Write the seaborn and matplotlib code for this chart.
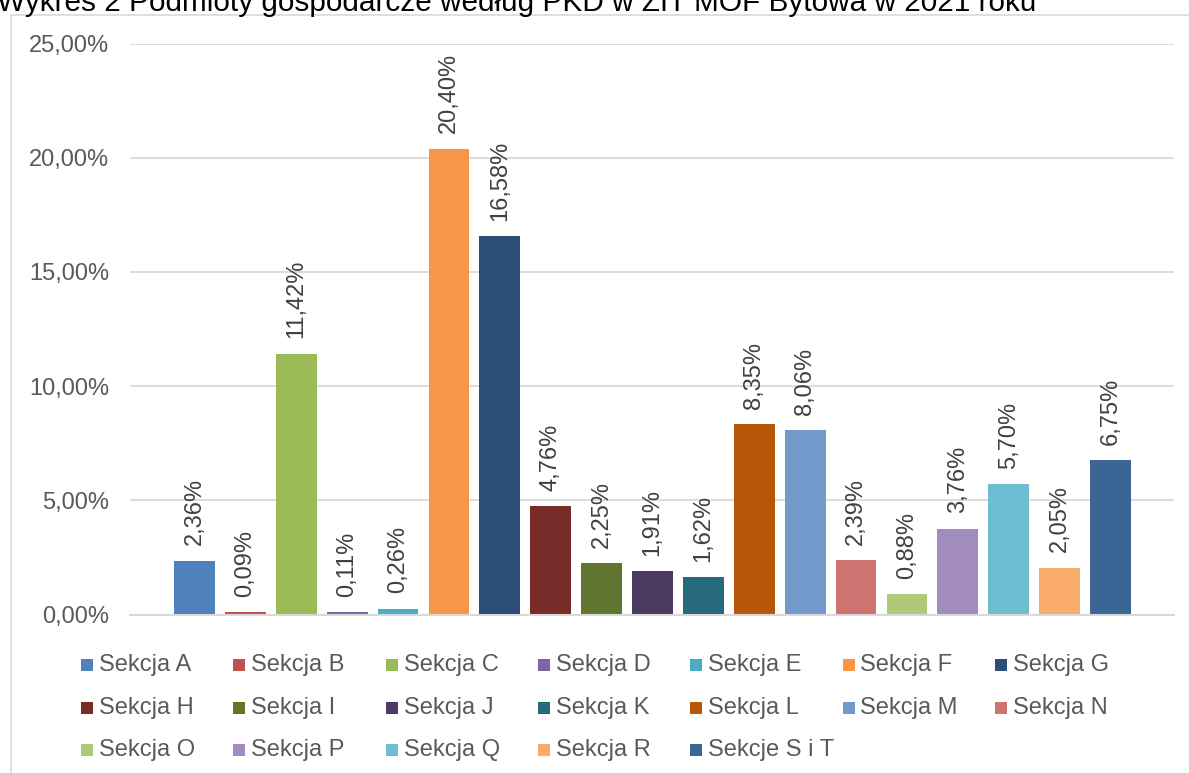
import matplotlib
matplotlib.use("Agg")
import matplotlib.pyplot as plt
import seaborn as sns
import pandas as pd
from matplotlib.patches import Rectangle

categories = ["Sekcja A", "Sekcja B", "Sekcja C", "Sekcja D", "Sekcja E", "Sekcja F",
              "Sekcja G", "Sekcja H", "Sekcja I", "Sekcja J", "Sekcja K", "Sekcja L",
              "Sekcja M", "Sekcja N", "Sekcja O", "Sekcja P", "Sekcja Q", "Sekcja R",
              "Sekcje S i T"]
values = [2.36, 0.09, 11.42, 0.11, 0.26, 20.40, 16.58, 4.76, 2.25, 1.91, 1.62, 8.35,
          8.06, 2.39, 0.88, 3.76, 5.70, 2.05, 6.75]
colors = ["#4F81BD", "#C0504D", "#9BBB59", "#8064A2", "#4BACC6", "#F79646", "#2C4D75",
          "#772C2A", "#5F7530", "#4D3B62", "#276A7C", "#B65708", "#729ACA", "#CD7371",
          "#AFC97A", "#A18BBF", "#6FBDD1", "#F9AB6B", "#3A6595"]
yticks = [0, 5, 10, 15, 20, 25]
title = "Wykres 2 Podmioty gospodarcze według PKD w ZIT MOF Bytowa w 2021 roku"

sns.set_theme(style="white")
plt.rcParams['font.family'] = ['Liberation Sans', 'DejaVu Sans']

W, H = 1189, 773
fig = plt.figure(figsize=(W / 100, H / 100), dpi=100)
fig.patch.set_facecolor("white")

# chart area border (extends beyond the crop on right/bottom)
fig.add_artist(Rectangle((11 / W, -0.05), 1.2, 1 - 14.5 / H + 0.05, transform=fig.transFigure,
                         fill=False, edgecolor="#D9D9D9", linewidth=1.2))

# title (cropped at top, as in the reference)
fig.text(-3 / W, 1 - 11 / H, title, ha="left", va="baseline", fontsize=21.4, color="#000000")

ax = fig.add_axes([130 / W, 1 - 614.5 / H, (1174 - 130) / W, (614.5 - 43.5) / H])
df = pd.DataFrame({"cat": categories, "val": values})
sns.barplot(data=df, x="cat", y="val", hue="cat", palette=colors, dodge=False,
            width=0.8, legend=False, ax=ax, saturation=1, edgecolor="none", linewidth=0)

ax.set_xlim(-1.267, 19.248)
ax.set_ylim(0, 25)
ax.set_yticks(yticks)
ax.set_yticklabels([f"{v:.2f}".replace(".", ",") + "%" for v in yticks],
                   fontsize=17, color="#595959")
ax.set_xticks([])
ax.set_xlabel("")
ax.set_ylabel("")
ax.tick_params(axis="y", length=0, pad=15)
ax.yaxis.grid(True, color="#D9D9D9", linewidth=1.3)
ax.set_axisbelow(True)
for s in ["top", "right", "left"]:
    ax.spines[s].set_visible(False)
ax.spines["bottom"].set_color("#D9D9D9")
ax.spines["bottom"].set_linewidth(1.5)

for cont in ax.containers:
    ax.bar_label(cont, labels=[f"{v:.2f}".replace(".", ",") + "%" for v in cont.datavalues],
                 rotation=90, padding=11, fontsize=17, color="#404040")

# legend (Excel style grid, 7 columns)
col0, colstep = 81, 152.3
rows_y = [665, 708, 750]
for i, (c, col) in enumerate(zip(categories, colors)):
    r, k = divmod(i, 7)
    x = col0 + k * colstep
    y = rows_y[r]
    fig.add_artist(Rectangle((x / W, 1 - (y + 6) / H), 12 / W, 12 / H,
                             transform=fig.transFigure, facecolor=col, edgecolor="none"))
    fig.text((x + 18) / W, 1 - y / H, c, ha="left", va="center", fontsize=17, color="#595959")

fig.savefig("out.png", dpi=100, facecolor="white")
